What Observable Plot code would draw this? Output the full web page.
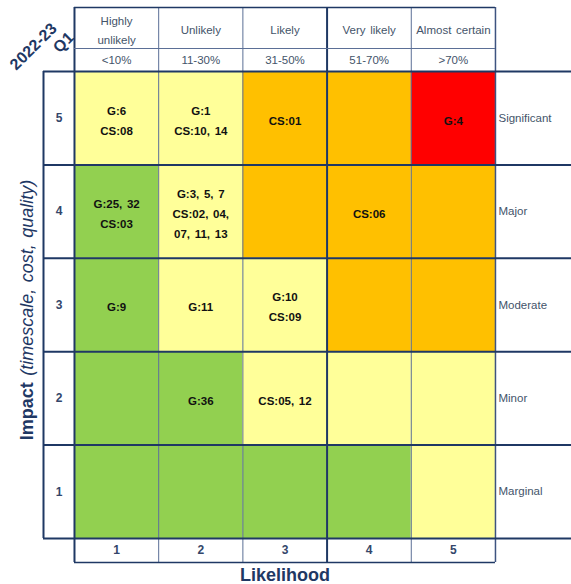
<!DOCTYPE html>
<html>
<head>
<meta charset="utf-8">
<script src="https://cdn.jsdelivr.net/npm/d3@7"></script>
<script src="https://cdn.jsdelivr.net/npm/@observablehq/plot@0.6"></script>
<style>
  body { margin: 0; background: #fff; }
  #chart { width: 571px; height: 584px; }
  #chart svg text { word-spacing: 1.5px; }
</style>
</head>
<body>
<div id="chart"></div>
<script>
// ---- data ----
const likelihood = [1, 2, 3, 4, 5];
const likelihoodLabels = ["Highly\nunlikely", "Unlikely", "Likely", "Very likely", "Almost certain"];
const likelihoodRanges = ["<10%", "11-30%", "31-50%", "51-70%", ">70%"];
const impact = [5, 4, 3, 2, 1];
const impactLabels = ["Significant", "Major", "Moderate", "Minor", "Marginal"];
const ratingLevels = ["low", "medium", "high", "severe"];
const ratingColors = ["#92D050", "#FFFF99", "#FFC000", "#FF0000"];
// rows follow `impact` (5 → 1), columns follow `likelihood` (1 → 5)
const ratingRows = [
  ["medium", "medium", "high", "high", "severe"],
  ["low", "medium", "high", "high", "high"],
  ["low", "medium", "medium", "high", "high"],
  ["low", "low", "medium", "medium", "medium"],
  ["low", "low", "low", "low", "medium"]
];
const riskRows = [
  ["G:6\nCS:08", "G:1\nCS:10, 14", "CS:01", "", "G:4"],
  ["G:25, 32\nCS:03", "G:3, 5, 7\nCS:02, 04,\n07, 11, 13", "", "CS:06", ""],
  ["G:9", "G:11", "G:10\nCS:09", "", ""],
  ["", "G:36", "CS:05, 12", "", ""],
  ["", "", "", "", ""]
];
const periodYear = "2022-23";
const periodQuarter = "Q1";
const xTitle = "Likelihood";
const yTitleBold = "Impact";
const yTitleItalic = "(timescale, cost, quality)";

const cells = impact.flatMap((im, r) =>
  likelihood.map((l, c) => ({impact: im, likelihood: l, rating: ratingRows[r][c], risks: riskRows[r][c]}))
);

// ---- layout (scale units) ----
const X_NUM = 0.132, X_END = 6.403;               // number column left edge, right edge
const Y_AX = 0.243, Y_HDR = 5.746, Y_TOP = 6.185; // axis row bottom, header divider, header top
const colEdges = [0.5, 1.5, 2.5, 3.5, 4.5, 5.5];
const rowEdges = [0.5, 1.5, 2.5, 3.5, 4.5, 5.5];
const navy = "#1F3864", thinLine = "#5B6F96", textGray = "#44546A", numColor = "#34466A";
const font = "'Liberation Sans', Arial, sans-serif";
const yTitle = yTitleBold + " " + yTitleItalic;

const chart = Plot.plot({
  width: 571,
  height: 584,
  marginLeft: 43,
  marginRight: 0,
  marginTop: 7,
  marginBottom: 22,
  x: {domain: [X_NUM, X_END], axis: null},
  y: {domain: [Y_AX, Y_TOP], axis: null},
  color: {domain: ratingLevels, range: ratingColors},
  style: {fontFamily: font, background: "#fff", overflow: "visible"},
  marks: [
    Plot.rect(cells, {
      x1: d => d.likelihood - 0.5, x2: d => d.likelihood + 0.5,
      y1: d => d.impact - 0.5, y2: d => d.impact + 0.5,
      fill: "rating"
    }),
    // thin vertical grid lines
    Plot.ruleX(colEdges.filter(e => ![0.5, 3.5, 5.5].includes(e)), {
      x: d => d, y1: () => Y_AX, y2: () => Y_TOP, stroke: thinLine, strokeWidth: 1
    }),
    Plot.ruleX(colEdges.filter(e => e === 5.5), {
      x: d => d, y1: () => Y_AX, y2: () => Y_TOP, stroke: "#3D5380", strokeWidth: 1.5
    }),
    // thick vertical lines
    Plot.ruleX(colEdges.filter(e => [0.5, 3.5].includes(e)), {
      x: d => d, y1: () => Y_AX, y2: () => Y_TOP, stroke: navy, strokeWidth: 2
    }),
    Plot.ruleX([X_NUM], {x: d => d, y1: () => 0.5, y2: () => 5.5, stroke: navy, strokeWidth: 2}),
    // header lines
    Plot.ruleY([Y_HDR], {y: d => d, x1: () => 0.5, x2: () => 5.5, stroke: thinLine, strokeWidth: 1}),
    Plot.ruleY([Y_TOP, Y_AX], {y: d => d, x1: () => 0.5, x2: () => 5.5, stroke: navy, strokeWidth: 1.5}),
    // row lines
    Plot.ruleY(rowEdges, {y: d => d, x1: () => X_NUM, x2: () => X_END, stroke: navy, strokeWidth: 2}),
    // cell texts
    Plot.text(cells, {
      x: "likelihood", y: "impact", text: "risks",
      fontWeight: "bold", fontSize: 11.5, lineHeight: 1.74, fill: "#111"
    }),
    // header labels
    Plot.text(likelihood, {
      x: d => d, y: () => (Y_TOP + Y_HDR) / 2, text: (d, i) => likelihoodLabels[i],
      fontSize: 11.5, lineHeight: 1.65, fill: textGray
    }),
    Plot.text(likelihood, {
      x: d => d, y: () => (Y_HDR + 5.5) / 2, text: (d, i) => likelihoodRanges[i],
      fontSize: 11.5, fill: textGray
    }),
    // impact numbers and labels
    Plot.text(impact, {
      x: () => (X_NUM + 0.5) / 2, y: d => d, text: d => String(d),
      fontWeight: "bold", fontSize: 12, fill: numColor
    }),
    Plot.text(impact, {
      x: () => 5.5, y: d => d, text: (d, i) => impactLabels[i],
      textAnchor: "start", dx: 3, fontSize: 11.5, fill: textGray
    }),
    // likelihood numbers
    Plot.text(likelihood, {
      x: d => d, y: () => (0.5 + Y_AX) / 2, text: d => String(d),
      fontWeight: "bold", fontSize: 12, fill: numColor
    }),
    // axis titles
    Plot.text([xTitle], {
      x: () => 3, frameAnchor: "bottom", dy: 13, text: d => d,
      textAnchor: "middle", lineAnchor: "middle",
      fontSize: 18, fontWeight: "bold", fill: navy
    }),
    Plot.text([yTitle], {
      y: () => 3, frameAnchor: "left", dx: -16, dy: 5, rotate: -90, text: d => d,
      textAnchor: "middle", lineAnchor: "middle",
      fontSize: 18, fill: navy
    }),
    // period label
    Plot.text([periodYear], {
      frameAnchor: "top-left", dx: -10, dy: 39, rotate: -45, text: d => d,
      textAnchor: "middle", lineAnchor: "middle",
      fontSize: 16, fontWeight: "bold", fill: navy
    }),
    Plot.text([periodQuarter], {
      frameAnchor: "top-left", dx: 20, dy: 35, rotate: -45, text: d => d,
      textAnchor: "middle", lineAnchor: "middle",
      fontSize: 16, fontWeight: "bold", fill: navy
    })
  ]
});

// mixed bold / italic y title
d3.select(chart).selectAll("text").filter(function () { return this.textContent === yTitle; })
  .each(function () {
    const t = d3.select(this);
    t.text(null);
    t.append("tspan").attr("font-weight", "bold").text(yTitleBold + " ");
    t.append("tspan").attr("font-style", "italic").text(yTitleItalic);
  });

document.getElementById("chart").appendChild(chart);
</script>
</body>
</html>
